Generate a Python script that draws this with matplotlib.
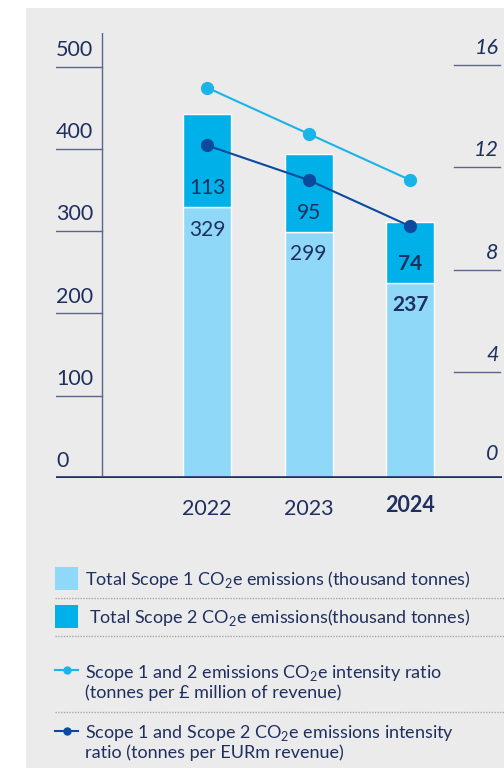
import matplotlib.pyplot as plt
from matplotlib.patches import Rectangle
from matplotlib.lines import Line2D

plt.rcParams['font.family'] = ['Lato', 'DejaVu Sans']
plt.rcParams['mathtext.fontset'] = 'custom'
plt.rcParams['mathtext.rm'] = 'Lato'

# data
years = ['2022', '2023', '2024']
scope1 = [329, 299, 237]
scope2 = [113, 95, 74]
ratio_gbp = [15.1, 13.3, 11.5]
ratio_eur = [12.85, 11.5, 9.7]
left_ticks = [100, 200, 300, 400, 500]
right_ticks = [4, 8, 12, 16]

navy = '#1f2f5f'
c_s1 = '#8fd8f7'
c_s2 = '#00b0e8'
c_l1 = '#1ab4e8'
c_l2 = '#0b4a9c'
bg = '#ebebeb'
tickc = '#5b6688'

W, H = 504, 768
fig = plt.figure(figsize=(W / 100, H / 100), dpi=100)
fig.patch.set_facecolor('white')
fig.patches.append(Rectangle((26 / W, 0), 1, 1 - 8 / H, transform=fig.transFigure,
                             facecolor=bg, edgecolor='none', zorder=-10))


def fx(px):
    return px / W


def fy(py):
    return 1 - py / H


ax = fig.add_axes([fx(56), fy(478), fx(446), 445 / H])
ax.set_facecolor('none')
for s in ax.spines.values():
    s.set_visible(False)
ax.set_xticks([])
ax.set_yticks([])
ax.set_xlim(-1.488, -1.488 + 446 / 101.5)
ax.set_ylim(0, 541)

x = range(len(years))
bw = 0.473
ax.bar(x, scope1, width=bw, color=c_s1, edgecolor='white', linewidth=1)
ax.bar(x, scope2, width=bw, bottom=scope1, color=c_s2, edgecolor='white', linewidth=1)

for i in x:
    w = 'bold' if i == len(years) - 1 else 'normal'
    ax.annotate(str(scope2[i]), (i, scope1[i]), xytext=(0, 14), textcoords='offset points',
                ha='center', va='center', fontsize=15, color=navy, fontweight=w)
    ax.annotate(str(scope1[i]), (i, scope1[i]), xytext=(0, -16), textcoords='offset points',
                ha='center', va='center', fontsize=15, color=navy, fontweight=w)
    ax.annotate(years[i], (i, 0), xytext=(0, -22 if w == 'normal' else -19.5),
                textcoords='offset points', ha='center', va='center',
                fontsize=15.5, color=navy, fontweight=w)

# left axis decorations
ytr = ax.get_yaxis_transform()
ax.plot([0.103, 0.103], [0.006, 1], transform=ax.transAxes, color=tickc, lw=1)
for t in left_ticks:
    ax.plot([0, 0.103], [t, t], transform=ytr, color=tickc, lw=1)
for t in [0] + left_ticks:
    ax.annotate(str(t), (0, t), xycoords=ytr, xytext=(0, 5), textcoords='offset points',
                ha='left', va='bottom', fontsize=15.5, color=navy)
ax.plot([-0.002, 1.0], [0, 0], transform=ytr, color=navy, lw=2.6, solid_capstyle='butt')

# right axis
ax2 = ax.twinx()
ax2.set_facecolor('none')
for s in ax2.spines.values():
    s.set_visible(False)
ax2.set_yticks([])
ax2.set_ylim(-0.115, 17.23)
ytr2 = ax2.get_yaxis_transform()
for t in right_ticks:
    ax2.plot([0.892, 0.996], [t, t], transform=ytr2, color=tickc, lw=1)
    ax2.annotate(str(t), (0.993, t), xycoords=ytr2, xytext=(0, 5), textcoords='offset points',
                 ha='right', va='bottom', fontsize=15.5, color=navy, style='italic')
ax2.annotate('0', (0.993, 0), xycoords=ytr2, xytext=(0, 8), textcoords='offset points',
             ha='right', va='bottom', fontsize=15.5, color=navy, style='italic')

ax2.plot(x, ratio_gbp, color=c_l1, lw=1.5, marker='o', markersize=8.5)
ax2.plot(x, ratio_eur, color=c_l2, lw=1.5, marker='o', markersize=8.5)

# legend
lfs = 13
fig.patches.append(Rectangle((fx(55), fy(590)), fx(23), 23 / H, transform=fig.transFigure,
                             facecolor=c_s1, edgecolor='none'))
fig.text(fx(85), fy(579), 'Total Scope 1 CO$_{\\mathrm{2}}$e emissions (thousand tonnes)',
         fontsize=lfs, color=navy, va='center')
fig.patches.append(Rectangle((fx(55), fy(628)), fx(23), 23 / H, transform=fig.transFigure,
                             facecolor=c_s2, edgecolor='none'))
fig.text(fx(89), fy(617), 'Total Scope 2 CO$_{\\mathrm{2}}$e emissions(thousand tonnes)',
         fontsize=lfs, color=navy, va='center')

fig.lines.append(Line2D([fx(55), fx(66.5), fx(78)], [fy(670)] * 3, transform=fig.transFigure,
                        color=c_l1, lw=1.5, marker='o', markevery=[1], markersize=5))
fig.text(fx(85), fy(682), 'Scope 1 and 2 emissions CO$_{\\mathrm{2}}$e intensity ratio\n'
         '(tonnes per £ million of revenue)', fontsize=lfs, color=navy, va='center',
         linespacing=1.15)
fig.lines.append(Line2D([fx(55), fx(66.5), fx(78)], [fy(731)] * 3, transform=fig.transFigure,
                        color=c_l2, lw=1.5, marker='o', markevery=[1], markersize=5))
fig.text(fx(85), fy(742), 'Scope 1 and Scope 2 CO$_{\\mathrm{2}}$e emissions intensity\n'
         'ratio (tonnes per EURm revenue)', fontsize=lfs, color=navy, va='center',
         linespacing=1.15)

for py in [598, 636, 712]:
    fig.lines.append(Line2D([fx(55), 1], [fy(py), fy(py)], transform=fig.transFigure,
                            color='#a8a8a8', lw=1, linestyle=(0, (1, 1))))

fig.savefig('out.png', dpi=100)
